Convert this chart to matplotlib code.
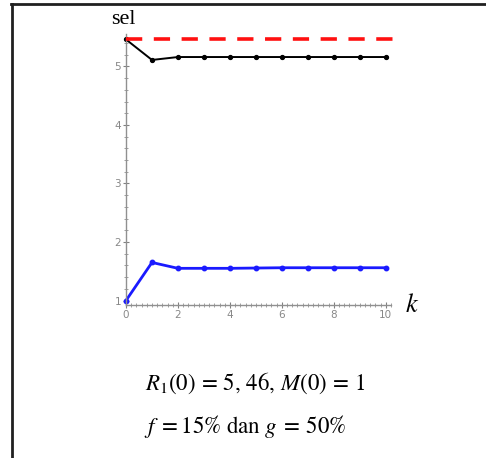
import matplotlib
matplotlib.use("Agg")
import matplotlib.pyplot as plt
from matplotlib.lines import Line2D
from matplotlib.ticker import MultipleLocator

# data
k = [0, 1, 2, 3, 4, 5, 6, 7, 8, 9, 10]
selR = [5.46, 5.11, 5.16, 5.16, 5.16, 5.16, 5.16, 5.16, 5.16, 5.16, 5.16]
selM = [1.00, 1.65, 1.55, 1.55, 1.55, 1.555, 1.56, 1.56, 1.56, 1.56, 1.56]
limitR = 5.46
xTicks = [0, 2, 4, 6, 8, 10]
yTicks = [1, 2, 3, 4, 5]

plt.rcParams['mathtext.fontset'] = 'stix'

W, H = 486, 458
fig = plt.figure(figsize=(W / 100, H / 100), dpi=100)

ax = fig.add_axes([126 / W, (H - 305.2) / H, 265 / W, 271 / H])
ax.set_xlim(0, 10.2)
ax.set_ylim(0.92, 5.55)

ax.plot([0, 10.65], [limitR, limitR], color='#ff1010', lw=2.6,
        dashes=(4.5, 3.2), clip_on=False, zorder=3)
ax.plot(k, selR, color='black', lw=1.4, marker='o', ms=2.8, clip_on=False)
ax.plot(k, selM, color='#1a1aff', lw=2.0, marker='o', ms=3.2, clip_on=False)

for side in ['top', 'right']:
    ax.spines[side].set_visible(False)
for side in ['left', 'bottom']:
    ax.spines[side].set_color('#909090')
    ax.spines[side].set_linewidth(1.0)

ax.set_xticks(xTicks)
ax.set_yticks(yTicks)
ax.xaxis.set_minor_locator(MultipleLocator(0.2))
ax.yaxis.set_minor_locator(MultipleLocator(0.2))
ax.tick_params(which='major', direction='inout', length=5, width=0.8,
               color='#808080', labelsize=7.5, labelcolor='#888888', pad=1)
ax.tick_params(which='minor', direction='inout', length=3, width=0.6,
               color='#909090')

fig.text(123 / W, 1 - 19 / H, 'sel', fontsize=16, family='Liberation Serif',
         ha='center', va='center')
fig.text(412 / W, 1 - 305 / H, r'$k$', fontsize=19, ha='center', va='center')
fig.text(255 / W, 1 - 383 / H, r'$R_1(0)\,=\,5,\,46,\,M(0)\,=\,1$', fontsize=16.5,
         ha='center', va='center')
fig.text(245 / W, 1 - 427 / H, r'$f\;=15\%\ \mathrm{dan}\ g\;=\,50\%$',
         fontsize=16.5, ha='center', va='center')

# frame lines of the original figure box
fig.add_artist(Line2D([11 / W, 1], [1 - 4 / H, 1 - 4 / H], color='#202020', lw=2.0))
fig.add_artist(Line2D([12 / W, 12 / W], [0, 1 - 4 / H], color='#202020', lw=2.0))

fig.savefig('out.png', dpi=100)
